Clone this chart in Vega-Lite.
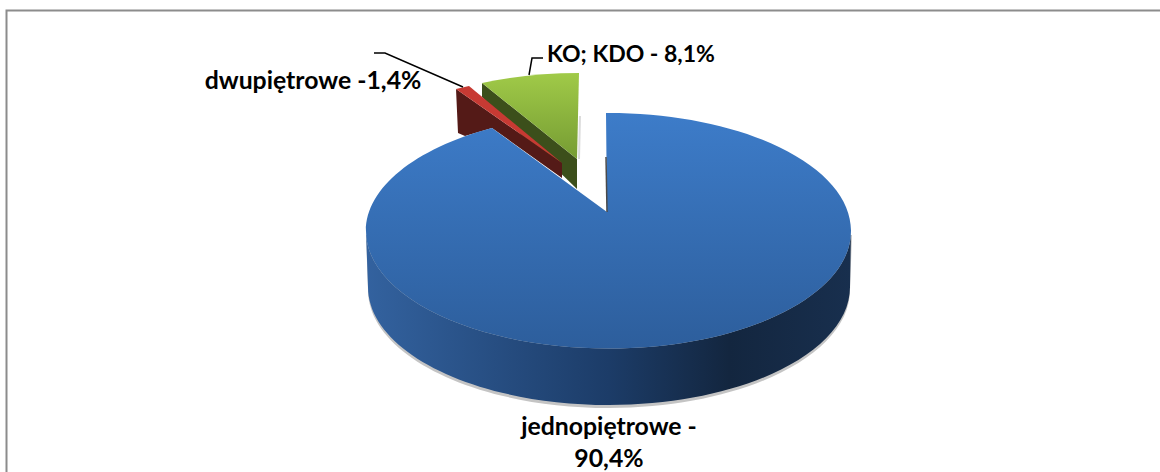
{
"$schema":"https://vega.github.io/schema/vega-lite/v6.json",
"width":1160,"height":472,"padding":0,"autosize":{"type":"none"},
"background":"white",
"view":{"stroke":null},
"data":{"values":[
{"segment":"jednopiętrowe","udzial":90.4,"label":"jednopiętrowe -\n90,4%"},
{"segment":"dwupiętrowe","udzial":1.4,"label":"dwupiętrowe -1,4%"},
{"segment":"KO; KDO","udzial":8.1,"label":"KO; KDO - 8,1%"}
]},
"layer":[
{"transform":[{"filter":"datum.segment==='jednopiętrowe'"}],"mark":{"type":"point","size":4,"filled":false,"opacity":1,"stroke":"#8c8c8c","strokeWidth":2,"shape":"M-573.5,236 L-573.5,-225.5 L580,-225.5"}},
{"transform":[{"filter":"datum.segment==='KO; KDO'"}],"mark":{"type":"point","size":4,"filled":false,"opacity":1,"stroke":"#dcdcdc","strokeWidth":2,"shape":"M0,-120 L-1,-77"}},
{"transform":[{"filter":"datum.segment==='KO; KDO'"}],"mark":{"type":"point","size":4,"filled":true,"opacity":1,"fill":"#3c4f1b","shape":"M-98,-153 L-3,-77 L-3,-47 L-98,-139 Z"}},
{"transform":[{"filter":"datum.segment==='KO; KDO'"}],"mark":{"type":"point","size":4,"filled":true,"opacity":1,"fill":{"gradient":"linear","x1":0,"y1":0,"x2":0,"y2":1,"stops":[{"offset":0,"color":"#a0ca48"},{"offset":1,"color":"#769c33"}]},"shape":"M-98,-153 A243,117.5 0 0 1 -1,-163 L-3,-77 Z"}},
{"transform":[{"filter":"datum.segment==='dwupiętrowe'"}],"mark":{"type":"point","size":4,"filled":true,"opacity":1,"fill":"#541a17","shape":"M-124,-147 L-122,-103 L-115,-100 L-88,-108 L-18,-58 L-18,-73 Z"}},
{"transform":[{"filter":"datum.segment==='dwupiętrowe'"}],"mark":{"type":"point","size":4,"filled":true,"opacity":1,"fill":"#c73a33","shape":"M-124,-147 L-111,-150 L-18,-73 Z"}},
{"transform":[{"filter":"datum.segment==='jednopiętrowe'"}],"mark":{"type":"point","size":4,"filled":true,"opacity":0.75,"fill":"#b0b0b0","shape":"M-214,-1 L-212,54 A241,118 0 0 0 270,54 L272,-1 Z"}},
{"transform":[{"filter":"datum.segment==='jednopiętrowe'"}],"mark":{"type":"point","size":4,"filled":true,"opacity":1,"fill":{"gradient":"linear","x1":0,"y1":0,"x2":1,"y2":0,"stops":[{"offset":0,"color":"#33629f"},{"offset":0.5,"color":"#1c3c68"},{"offset":0.75,"color":"#13263f"},{"offset":1,"color":"#182f4e"}]},"shape":"M-214,-5 L-212,51 A241,118 0 0 0 270,51 L271,-5 A242.5,117.5 0 0 1 -214,-5 Z"}},
{"transform":[{"filter":"datum.segment==='jednopiętrowe'"}],"mark":{"type":"point","size":4,"filled":true,"opacity":1,"fill":{"gradient":"linear","x1":0,"y1":0,"x2":0,"y2":1,"stops":[{"offset":0,"color":"#3d7cc9"},{"offset":1,"color":"#2d5e9c"}]},"shape":"M27,-24 L26,-123 A242.5,117.5 0 0 1 271,-5 A242.5,117.5 0 0 1 -214,-5 A242.5,117.5 0 0 1 -88,-108 Z"}},
{"transform":[{"filter":"datum.segment==='jednopiętrowe'"}],"mark":{"type":"point","size":4,"filled":false,"opacity":1,"stroke":"#4a4a4a","strokeWidth":1.5,"shape":"M26,-79 L27,-24"}},
{"transform":[{"filter":"datum.segment==='dwupiętrowe'"}],"mark":{"type":"point","size":4,"filled":false,"opacity":1,"stroke":"#000000","strokeWidth":1.5,"shape":"M-206,-183 L-195,-183 L-117,-149"}},
{"transform":[{"filter":"datum.segment==='KO; KDO'"}],"mark":{"type":"point","size":4,"filled":false,"opacity":1,"stroke":"#000000","strokeWidth":1.5,"shape":"M-37,-178 L-48,-178 L-51,-161"}},
{"transform":[{"filter":"datum.segment==='jednopiętrowe'"}],"mark":{"type":"text","font":"Lato","fontWeight":"bold","fontSize":24.8,"color":"#000000","align":"center","baseline":"middle","lineBreak":"\n","lineHeight":32,"dx":29,"dy":192},"encoding":{"text":{"field":"label","type":"nominal"}}},
{"transform":[{"filter":"datum.segment==='dwupiętrowe'"}],"mark":{"type":"text","font":"Lato","fontWeight":"bold","fontSize":24.8,"color":"#000000","align":"center","baseline":"middle","dx":-267,"dy":-154},"encoding":{"text":{"field":"label","type":"nominal"}}},
{"transform":[{"filter":"datum.segment==='KO; KDO'"}],"mark":{"type":"text","font":"Lato","fontWeight":"bold","fontSize":23,"color":"#000000","align":"center","baseline":"middle","dx":51,"dy":-181},"encoding":{"text":{"field":"label","type":"nominal"}}}
]
}
